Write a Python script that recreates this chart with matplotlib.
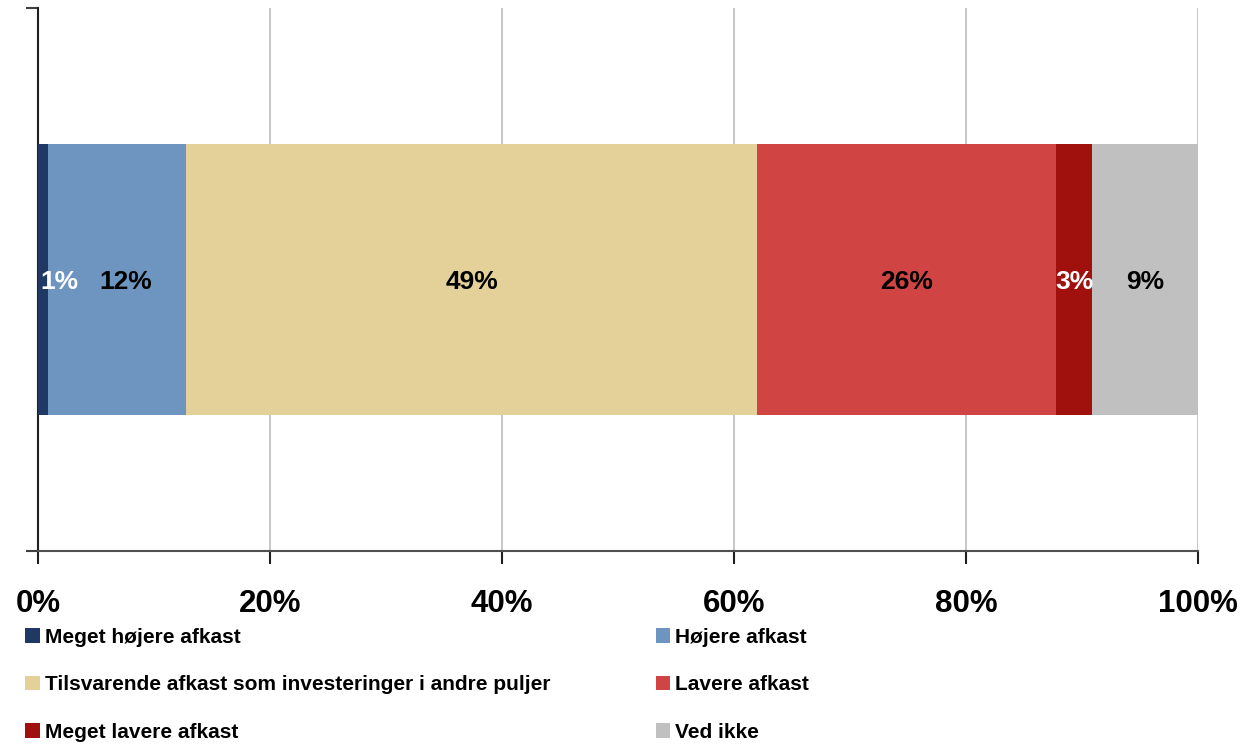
import matplotlib.pyplot as plt
from matplotlib.ticker import FuncFormatter

plt.rcParams['font.family'] = ['Liberation Sans', 'DejaVu Sans']
plt.rcParams['font.weight'] = 'bold'

# data
categories = ['Meget højere afkast', 'Højere afkast',
              'Tilsvarende afkast som investeringer i andre puljer',
              'Lavere afkast', 'Meget lavere afkast', 'Ved ikke']
values = [0.9, 11.9, 49.2, 25.8, 3.1, 9.1]
value_labels = ['1%', '12%', '49%', '26%', '3%', '9%']
colors = ['#203864', '#6D95BF', '#E3D199', '#D04444', '#A0100C', '#C0C0C0']
label_colors = ['white', 'black', 'black', 'black', 'white', 'black']
label_shift = [12, 6, 0, 0, 0, 0]   # points, narrow segments get nudged right

fig = plt.figure(figsize=(12.41, 7.44), dpi=100)
ax = fig.add_axes([38 / 1241, 1 - 551 / 744, 1160 / 1241, 543 / 744])

left = 0
handles = []
for i, v in enumerate(values):
    b = ax.barh(0, v, left=left, height=0.5, color=colors[i], label=categories[i], zorder=3)
    handles.append(b)
    ax.annotate(value_labels[i], (left + v / 2, 0), xytext=(label_shift[i], -1.5),
                textcoords='offset points', ha='center', va='center',
                fontsize=19, fontweight='bold', color=label_colors[i], zorder=4)
    left += v

ax.set_xlim(0, 100)
ax.set_ylim(-0.5, 0.5)
ax.set_xticks([0, 20, 40, 60, 80, 100])
ax.xaxis.set_major_formatter(FuncFormatter(lambda x, p: '%d%%' % x))
ax.set_yticks([-0.5, 0.5])
ax.set_yticklabels([])
ax.tick_params(axis='x', labelsize=22.5, length=9, width=1.5, color='#202020',
               direction='out', pad=18)
ax.tick_params(axis='y', length=9, width=1.5, color='#404040', direction='out')
for lab in ax.get_xticklabels():
    lab.set_fontweight('bold')

ax.grid(axis='x', color='#BFBFBF', lw=1.2, zorder=0)
for s in ['top', 'right']:
    ax.spines[s].set_visible(False)
ax.spines['left'].set_linewidth(1.5)
ax.spines['left'].set_color('#202020')
ax.spines['bottom'].set_linewidth(1.5)
ax.spines['bottom'].set_color('#505050')

order = [0, 2, 4, 1, 3, 5]
fig.legend([handles[i] for i in order], [categories[i] for i in order],
           ncol=2, loc='upper left', bbox_to_anchor=(25 / 1241, 1 - 628 / 744),
           frameon=False, fontsize=15, handlelength=0.7, handleheight=0.7,
           handletextpad=0.25, columnspacing=5.05, labelspacing=1.36,
           borderaxespad=0, borderpad=0)

fig.savefig('out.png', dpi=100)
